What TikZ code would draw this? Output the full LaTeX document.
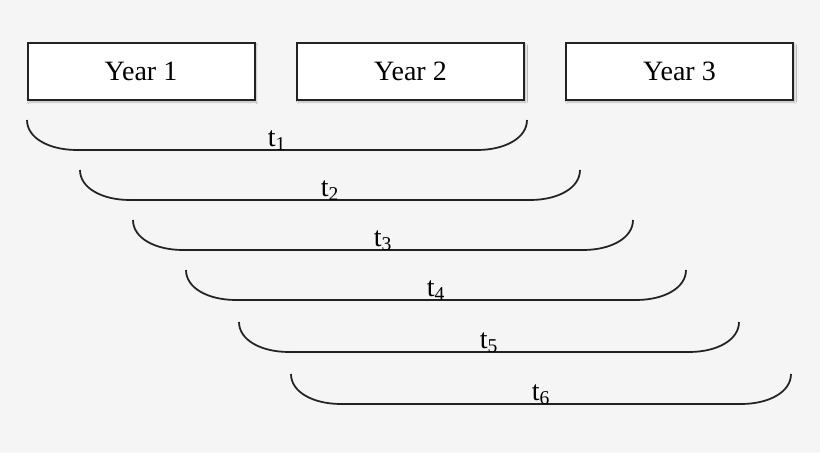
\documentclass[tikz,border=0pt]{standalone}
\usepackage{fontspec}
\setmainfont{Liberation Serif}
\usetikzlibrary{shadows.blur}
\definecolor{bgc}{HTML}{F5F5F5}
\definecolor{edgec}{HTML}{222222}
\begin{document}
\begin{tikzpicture}[x=1pt,y=-1pt,
  yearbox/.style={draw=edgec,line width=2pt,fill=white,minimum width=227pt,minimum height=57pt,
    inner sep=0pt,font=\fontsize{28}{30}\selectfont,
    blur shadow={shadow xshift=1.5pt,shadow yshift=-2pt,shadow blur steps=6,shadow opacity=25}},
  spanline/.style={draw=edgec,line width=1.7pt},
  tlabel/.style={font=\fontsize{28}{30}\selectfont,anchor=base,inner sep=0pt}]
\fill[bgc] (0,0) rectangle (820,453);
\useasboundingbox (0,0) rectangle (820,453);
\node[yearbox] (y1) at (141,71.5) {Year 1};
\node[yearbox] (y2) at (410.5,71.5) {Year 2};
\node[yearbox] (y3) at (679.5,71.5) {Year 3};
\foreach \i/\xl/\yt in {1/27/120,2/80/170,3/133/220,4/186/270,5/239/322,6/291/374}{
  \pgfmathsetmacro{\xr}{\xl+500}
  \pgfmathsetmacro{\yb}{\yt+30}
  \pgfmathsetmacro{\xm}{\xl+250}
  \coordinate (s\i l) at (\xl,\yt);
  \coordinate (s\i r) at (\xr,\yt);
  \draw[spanline,gray!40,line width=2pt,opacity=0.6,shift={(1pt,-2pt)}]
    (s\i l) .. controls ++(0,18) and ++(-28,0) .. ++(50,30) -- ++(400,0)
    .. controls ++(28,0) and ++(0,18) .. (s\i r);
  \draw[spanline] (s\i l) .. controls ++(0,18) and ++(-28,0) .. ++(50,30) -- ++(400,0)
    .. controls ++(28,0) and ++(0,18) .. (s\i r);
  \node[tlabel] (t\i) at (\xm,\yb-3.5) {t\textsubscript{\i}};
}
\end{tikzpicture}
\end{document}
